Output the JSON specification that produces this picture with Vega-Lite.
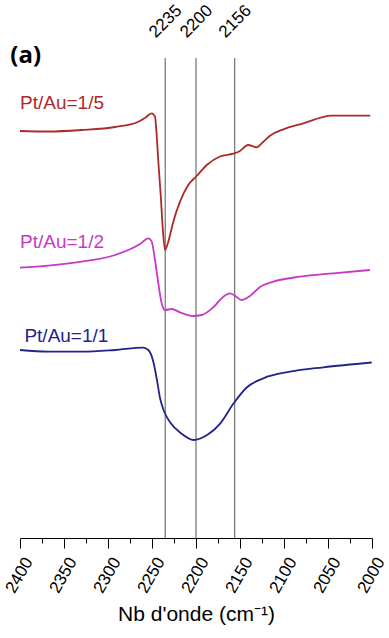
{
  "$schema": "https://vega.github.io/schema/vega-lite/v6.json",
  "width": 352,
  "height": 480,
  "autosize": {"type": "none"},
  "padding": {"left": 20, "top": 58, "right": 17, "bottom": 100},
  "background": "white",
  "config": {
    "view": {"stroke": null},
    "font": "Liberation Sans",
    "axis": {"labelFont": "Liberation Sans", "titleFont": "Liberation Sans", "labelColor": "black", "titleColor": "black", "domainColor": "black", "tickColor": "black", "grid": false}
  },
  "datasets": {
    "spectra": [
      {"wn": 2400, "a": 407, "s": "1/5"},
      {"wn": 2368, "a": 406.5, "s": "1/5"},
      {"wn": 2330, "a": 408, "s": "1/5"},
      {"wn": 2292, "a": 411, "s": "1/5"},
      {"wn": 2266, "a": 416, "s": "1/5"},
      {"wn": 2258, "a": 420, "s": "1/5"},
      {"wn": 2250.3, "a": 424.7, "s": "1/5"},
      {"wn": 2246.6, "a": 421.3, "s": "1/5"},
      {"wn": 2244.7, "a": 403, "s": "1/5"},
      {"wn": 2242.8, "a": 376.3, "s": "1/5"},
      {"wn": 2240.1, "a": 343, "s": "1/5"},
      {"wn": 2237.8, "a": 310, "s": "1/5"},
      {"wn": 2235.2, "a": 288, "s": "1/5"},
      {"wn": 2231.5, "a": 296.3, "s": "1/5"},
      {"wn": 2225.8, "a": 316.3, "s": "1/5"},
      {"wn": 2218.2, "a": 336.3, "s": "1/5"},
      {"wn": 2208.8, "a": 353, "s": "1/5"},
      {"wn": 2199.2, "a": 362, "s": "1/5"},
      {"wn": 2187.8, "a": 373, "s": "1/5"},
      {"wn": 2172.7, "a": 381.5, "s": "1/5"},
      {"wn": 2157.6, "a": 384.3, "s": "1/5"},
      {"wn": 2150, "a": 387, "s": "1/5"},
      {"wn": 2140.9, "a": 393, "s": "1/5"},
      {"wn": 2131, "a": 390.7, "s": "1/5"},
      {"wn": 2123.5, "a": 396.3, "s": "1/5"},
      {"wn": 2115.9, "a": 402.3, "s": "1/5"},
      {"wn": 2100.8, "a": 408.7, "s": "1/5"},
      {"wn": 2078, "a": 414.7, "s": "1/5"},
      {"wn": 2045.8, "a": 422.3, "s": "1/5"},
      {"wn": 2025, "a": 422.3, "s": "1/5"},
      {"wn": 2002, "a": 422.3, "s": "1/5"},

      {"wn": 2400, "a": 270.3, "s": "1/2"},
      {"wn": 2367.8, "a": 272.3, "s": "1/2"},
      {"wn": 2329.9, "a": 276.3, "s": "1/2"},
      {"wn": 2292, "a": 283, "s": "1/2"},
      {"wn": 2263.6, "a": 294, "s": "1/2"},
      {"wn": 2254.2, "a": 299.7, "s": "1/2"},
      {"wn": 2250.3, "a": 296.3, "s": "1/2"},
      {"wn": 2246.6, "a": 278, "s": "1/2"},
      {"wn": 2242.8, "a": 254.7, "s": "1/2"},
      {"wn": 2239, "a": 234.7, "s": "1/2"},
      {"wn": 2235.2, "a": 228, "s": "1/2"},
      {"wn": 2227.6, "a": 229, "s": "1/2"},
      {"wn": 2218.2, "a": 225.7, "s": "1/2"},
      {"wn": 2203.1, "a": 222, "s": "1/2"},
      {"wn": 2193.5, "a": 223, "s": "1/2"},
      {"wn": 2180.3, "a": 230.7, "s": "1/2"},
      {"wn": 2168.9, "a": 241.3, "s": "1/2"},
      {"wn": 2161.4, "a": 244.7, "s": "1/2"},
      {"wn": 2155.7, "a": 242.3, "s": "1/2"},
      {"wn": 2148.1, "a": 238, "s": "1/2"},
      {"wn": 2138.6, "a": 242, "s": "1/2"},
      {"wn": 2127.3, "a": 251, "s": "1/2"},
      {"wn": 2112.2, "a": 256.3, "s": "1/2"},
      {"wn": 2081.8, "a": 261.3, "s": "1/2"},
      {"wn": 2043.9, "a": 264.7, "s": "1/2"},
      {"wn": 2002.3, "a": 268, "s": "1/2"},

      {"wn": 2400, "a": 188, "s": "1/1"},
      {"wn": 2367.8, "a": 186.3, "s": "1/1"},
      {"wn": 2329.9, "a": 186.3, "s": "1/1"},
      {"wn": 2292, "a": 188, "s": "1/1"},
      {"wn": 2259.9, "a": 190.3, "s": "1/1"},
      {"wn": 2254.2, "a": 188, "s": "1/1"},
      {"wn": 2248.5, "a": 176.3, "s": "1/1"},
      {"wn": 2244.7, "a": 159.7, "s": "1/1"},
      {"wn": 2240.9, "a": 140, "s": "1/1"},
      {"wn": 2236.4, "a": 127, "s": "1/1"},
      {"wn": 2228.8, "a": 115, "s": "1/1"},
      {"wn": 2217.4, "a": 105, "s": "1/1"},
      {"wn": 2202.6, "a": 98, "s": "1/1"},
      {"wn": 2187.4, "a": 103, "s": "1/1"},
      {"wn": 2172.3, "a": 114.7, "s": "1/1"},
      {"wn": 2157.2, "a": 134.7, "s": "1/1"},
      {"wn": 2142.4, "a": 150.5, "s": "1/1"},
      {"wn": 2123.5, "a": 159.7, "s": "1/1"},
      {"wn": 2093.2, "a": 166.3, "s": "1/1"},
      {"wn": 2055.3, "a": 170.7, "s": "1/1"},
      {"wn": 2000.3, "a": 175.5, "s": "1/1"}
    ],
    "marks": [
      {"wn": 2235},
      {"wn": 2200},
      {"wn": 2156}
    ],
    "labels": [
      {"wn": 2400, "a": 429, "s": "1/5", "label": "Pt/Au=1/5"},
      {"wn": 2400, "a": 290, "s": "1/2", "label": "Pt/Au=1/2"},
      {"wn": 2395, "a": 196, "s": "1/1", "label": "Pt/Au=1/1"}
    ],
    "panel": [
      {"wn": 2411, "a": 482, "label": "(a)"}
    ]
  },
  "resolve": {"axis": {"x": "independent"}},
  "layer": [
    {
      "data": {"name": "marks"},
      "mark": {"type": "rule", "color": "#555555", "strokeWidth": 1},
      "encoding": {
        "x": {
          "field": "wn", "type": "quantitative",
          "scale": {"domain": [2400, 2000], "nice": false, "zero": false},
          "axis": {"orient": "top", "values": [2235, 2200, 2156], "format": "d", "title": null, "domain": false, "ticks": false, "labelAngle": -45, "labelAlign": "center", "labelBaseline": "middle", "labelPadding": 37, "labelFontSize": 17, "labelFlush": false, "labelOverlap": false}
        }
      }
    },
    {
      "data": {"name": "spectra"},
      "mark": {"type": "line", "strokeWidth": 1.8, "interpolate": "monotone"},
      "encoding": {
        "x": {
          "field": "wn", "type": "quantitative",
          "scale": {"domain": [2400, 2000], "nice": false, "zero": false},
          "axis": {"orient": "bottom", "values": [2400, 2350, 2300, 2250, 2200, 2150, 2100, 2050, 2000], "format": "d", "title": "Nb d'onde (cm⁻¹)", "titleFontSize": 21, "titleFontWeight": "normal", "titlePadding": 8, "tickSize": 10, "labelAngle": -60, "labelAlign": "center", "labelBaseline": "middle", "labelPadding": 27, "labelOffset": -1, "labelFontSize": 17, "labelFlush": false, "labelOverlap": false}
        },
        "y": {"field": "a", "type": "quantitative", "scale": {"domain": [0, 480], "nice": false, "zero": false}, "axis": null},
        "color": {"field": "s", "type": "nominal", "scale": {"domain": ["1/5", "1/2", "1/1"], "range": ["#ac2a2a", "#c838c8", "#23238a"]}, "legend": null},
        "detail": {"field": "s"}
      }
    },
    {
      "data": {"name": "labels"},
      "mark": {"type": "text", "align": "left", "baseline": "alphabetic", "fontSize": 19, "font": "Liberation Sans"},
      "encoding": {
        "x": {
          "field": "wn", "type": "quantitative",
          "axis": {"orient": "bottom", "values": [2375, 2325, 2275, 2225, 2175, 2125, 2075, 2025], "labels": false, "domain": false, "tickSize": 5, "title": null}
        },
        "y": {"field": "a", "type": "quantitative"},
        "text": {"field": "label"},
        "color": {"field": "s", "type": "nominal", "legend": null}
      }
    },
    {
      "data": {"name": "panel"},
      "mark": {"type": "text", "align": "left", "baseline": "middle", "fontSize": 24, "fontWeight": "bold", "font": "Open Sans", "color": "black"},
      "encoding": {
        "x": {"field": "wn", "type": "quantitative", "axis": null},
        "y": {"field": "a", "type": "quantitative"},
        "text": {"field": "label"}
      }
    }
  ]
}
